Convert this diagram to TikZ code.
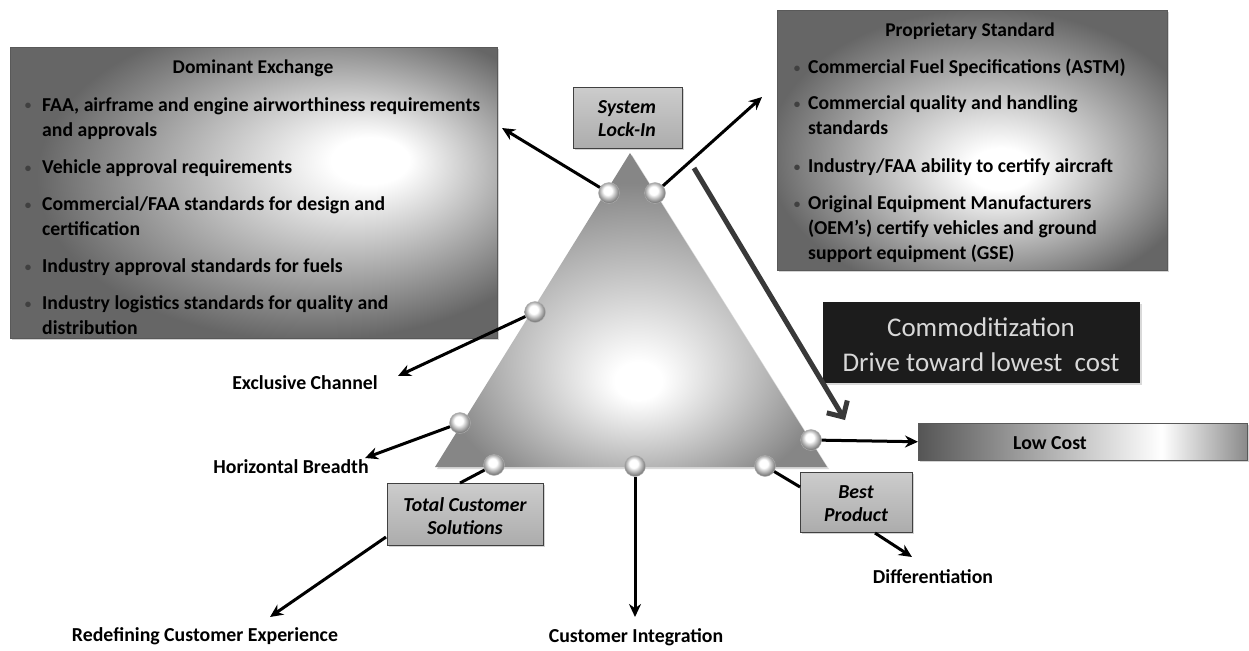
\documentclass[tikz,border=0pt]{standalone}
\usepackage{fontspec}
\setmainfont{Carlito}
\usetikzlibrary{arrows.meta,shadows}
\definecolor{dgray}{HTML}{666666}
\definecolor{tgray}{HTML}{868686}
\definecolor{lcl}{HTML}{555555}
\definecolor{lcr}{HTML}{8A8A8A}
\definecolor{cbox}{HTML}{1C1C1C}
\definecolor{ctext}{HTML}{D8D8D8}
\definecolor{ballrim}{HTML}{9A9A9A}
\pgfdeclareradialshading{domglow}{\pgfpoint{13bp}{6bp}}{color(0bp)=(white); color(4bp)=(white); color(28bp)=(dgray); color(50bp)=(dgray)}
\pgfdeclareradialshading{propglow}{\pgfpoint{4bp}{-6bp}}{color(0bp)=(white); color(4bp)=(white); color(28bp)=(dgray); color(50bp)=(dgray)}
\pgfdeclareradialshading{triglow}{\pgfpoint{1bp}{-12bp}}{color(0bp)=(white); color(3bp)=(white); color(26bp)=(tgray); color(50bp)=(tgray)}
\pgfdeclareradialshading{wball}{\pgfpoint{-4bp}{7bp}}{color(0bp)=(white); color(10bp)=(white); color(22bp)=(ballrim); color(26bp)=(ballrim!80!black); color(50bp)=(ballrim!80!black)}
\pgfdeclarehorizontalshading{lowcost}{100bp}{color(0bp)=(lcl); color(25bp)=(lcl); color(62bp)=(white); color(75bp)=(lcr); color(100bp)=(lcr)}
\tikzset{
  bigbox/.style={draw=gray!70!black, line width=0.5pt, anchor=north west, inner sep=0,
    drop shadow={opacity=0.35, shadow xshift=2pt, shadow yshift=-2pt}},
  smallbox/.style={draw=gray!50!black, line width=0.6pt, top color=gray!40, bottom color=gray!65,
    anchor=north west, inner sep=0, drop shadow={opacity=0.35, shadow xshift=2pt, shadow yshift=-2pt}},
  smalltext/.style={font=\bfseries\itshape\fontsize{19.8}{23}\selectfont, align=center, inner sep=0},
  ln/.style={font=\bfseries\fontsize{19.7}{22}\selectfont, anchor=base west, inner sep=0},
  bul/.style={font=\bfseries\fontsize{13}{14}\selectfont, text=black!75, anchor=base, inner sep=0},
  ttl/.style={font=\bfseries\fontsize{19.5}{22}\selectfont, anchor=base, inner sep=0},
  lab/.style={font=\bfseries\fontsize{19.8}{22}\selectfont, inner sep=0},
  ball/.style={circle, minimum size=21pt, inner sep=0, shading=wball, draw=gray!60, line width=0.4pt},
  arr/.style={line width=3pt, -{Stealth[length=13pt,width=12pt]}},
  conn/.style={line width=3pt},
}
\begin{document}
\begin{tikzpicture}[x=1pt,y=-1pt]
\useasboundingbox (0,0) rectangle (1249,650);

% ---------- Dominant Exchange box ----------
\node[bigbox, shading=domglow, minimum width=487pt, minimum height=291pt] (dom) at (10,47) {};
\node[ttl] (domt) at (253,74) {Dominant Exchange};
\node[bul] (db1) at (28,110) {•};
\node[ln] (d1a) at (42,111) {FAA, airframe and engine airworthiness requirements};
\node[ln] (d1b) at (42,136) {and approvals};
\node[bul] (db2) at (28,172) {•};
\node[ln] (d2a) at (42,173) {Vehicle approval requirements};
\node[bul] (db3) at (28,209) {•};
\node[ln] (d3a) at (42,210) {Commercial/FAA standards for design and};
\node[ln] (d3b) at (42,235) {certification};
\node[bul] (db4) at (28,271) {•};
\node[ln] (d4a) at (42,272) {Industry approval standards for fuels};
\node[bul] (db5) at (28,308) {•};
\node[ln] (d5a) at (42,309) {Industry logistics standards for quality and};
\node[ln] (d5b) at (42,334) {distribution};

% ---------- Proprietary Standard box ----------
\node[bigbox, shading=propglow, minimum width=390pt, minimum height=260pt] (prop) at (777,10) {};
\node[ttl] (propt) at (970,37) {Proprietary Standard};
\node[bul] (pb1) at (797,73) {•};
\node[ln] (p1a) at (808,74) {Commercial Fuel Specifications (ASTM)};
\node[bul] (pb2) at (797,109) {•};
\node[ln] (p2a) at (808,110) {Commercial quality and handling};
\node[ln] (p2b) at (808,135) {standards};
\node[bul] (pb3) at (797,171) {•};
\node[ln] (p3a) at (808,172) {Industry/FAA ability to certify aircraft};
\node[bul] (pb4) at (797,208) {•};
\node[ln] (p4a) at (808,209) {Original Equipment Manufacturers};
\node[ln] (p4b) at (808,234) {(OEM’s) certify vehicles and ground};
\node[ln] (p4c) at (808,259) {support equipment (GSE)};

% ---------- Commoditization ----------
\node[fill=cbox, anchor=north west, minimum width=317pt, minimum height=81pt, inner sep=0,
  drop shadow={opacity=0.3, shadow xshift=2pt, shadow yshift=-2pt}] (comm) at (823,302) {};
\node[font=\fontsize{27}{35}\selectfont, text=ctext, align=center, inner sep=0] (commt) at (981,345)
  {Commoditization\\Drive toward lowest\ \ cost};

% ---------- Low Cost ----------
\node[bigbox, shading=lowcost, minimum width=329pt, minimum height=37pt] (lc) at (918,423) {};
\node[lab] (lct) at (1050,443) {Low Cost};

% ---------- Triangle ----------
\coordinate (apex) at (630,153);
\coordinate (bl) at (435,467);
\coordinate (br) at (827,467);
\path[shading=triglow, drop shadow={opacity=0.3, shadow xshift=2pt, shadow yshift=-2pt}]
  (apex) -- (br) -- (bl) -- cycle;

% ---------- small boxes ----------
\node[smallbox, minimum width=109pt, minimum height=61pt] (slk) at (573,87) {};
\node[smalltext] (slkt) at (627,119) {System\\Lock-In};
\node[smallbox, minimum width=156pt, minimum height=62pt] (tcs) at (387,483) {};
\node[smalltext] (tcst) at (465,516) {Total Customer\\Solutions};
\node[smallbox, minimum width=112pt, minimum height=60pt] (bp) at (800,472) {};
\node[smalltext] (bpt) at (856,504) {Best\\Product};

% ---------- balls ----------
\node[ball] (b1) at (609,193) {};
\node[ball] (b2) at (655,193) {};
\node[ball] (b3) at (535,312) {};
\node[ball] (b4) at (460,423) {};
\node[ball] (b5) at (494,465) {};
\node[ball] (b6) at (635,466) {};
\node[ball] (b7) at (765,466) {};
\node[ball] (b8) at (811,440) {};

% ---------- labels ----------
\node[lab] (exl) at (305,383) {Exclusive Channel};
\node[lab] (hor) at (291,467) {Horizontal Breadth};
\node[lab] (rce) at (205,636) {Redefining Customer Experience};
\node[lab] (cin) at (636,637) {Customer Integration};
\node[lab] (dif) at (933,577) {Differentiation};

% ---------- connector end points ----------
\coordinate (tDom) at (502,128);
\coordinate (tProp) at (762,97);
\coordinate (tExl) at (398,376);
\coordinate (tHor) at (365,458);
\coordinate (tcsTop) at (460,483);
\coordinate (tcsOut) at (386,537);
\coordinate (tRce) at (270,617);
\coordinate (tCin) at (635,617);
\coordinate (bpIn) at (800,487);
\coordinate (bpOut) at (875,533);
\coordinate (tDif) at (912,557);
\coordinate (gs) at (694,168);
\coordinate (ge) at (845,420);

% ---------- connectors ----------
\draw[arr] (b1) -- (tDom);
\draw[arr] (b2) -- (tProp);
\draw[arr] (b3) -- (tExl);
\draw[arr] (b4) -- (tHor);
\draw[conn] (b5) -- (tcsTop);
\draw[arr] (tcsOut) -- (tRce);
\draw[arr] (b6) -- (tCin);
\draw[conn] (b7) -- (bpIn);
\draw[arr] (bpOut) -- (tDif);
\draw[arr] (b8) -- (lc.west);
\draw[line width=5pt, draw=gray!45!black, -{Straight Barb[length=12pt,width=24pt,line width=5pt]}] (gs) -- (ge);
\end{tikzpicture}
\end{document}
